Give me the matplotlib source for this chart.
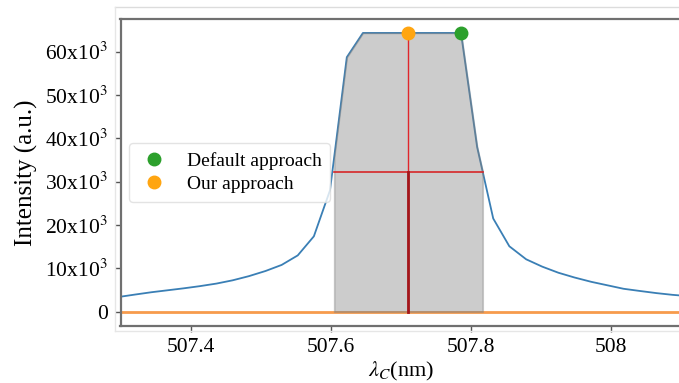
import numpy as np
import matplotlib
matplotlib.use("Agg")
import matplotlib.pyplot as plt
from matplotlib.ticker import FuncFormatter
from matplotlib.lines import Line2D

plt.rcParams['font.family'] = ['Liberation Serif', 'DejaVu Serif']
plt.rcParams['mathtext.fontset'] = 'stix'

# Measured spectrum (wavelength in nm, intensity in a.u.)
wavelength = [507.297, 507.320, 507.344, 507.367, 507.390, 507.413, 507.437,
              507.460, 507.483, 507.507, 507.530, 507.553, 507.576, 507.599,
              507.623, 507.646, 507.669, 507.693, 507.716, 507.739, 507.762,
              507.786, 507.809, 507.832, 507.855, 507.879, 507.902, 507.925,
              507.948, 507.972, 507.995, 508.018, 508.041, 508.065, 508.088,
              508.111]
intensity = [3400, 3950, 4500, 4950, 5400, 5900, 6500,
             7250, 8200, 9400, 10800, 13000, 17400, 28000,
             58700, 64300, 64300, 64300, 64300, 64300, 64300,
             64300, 38000, 21500, 15100, 12100, 10400, 9000,
             7900, 6900, 6100, 5300, 4800, 4300, 3900,
             3600]

# Peak estimates
default_peak = (507.786, 64300)   # position of the maximum sample
our_peak = (507.711, 64300)       # centre of the FWHM interval
fwhm_left, fwhm_right = 507.605, 507.817
half_max = 32200

y_ticks = [0, 10000, 20000, 30000, 40000, 50000, 60000]
x_ticks = [507.4, 507.6, 507.8, 508.0]
x_tick_labels = ['507.4', '507.6', '507.8', '508']

W, H = 679, 383
fig = plt.figure(figsize=(W / 100, H / 100), dpi=100)
ax = fig.add_axes([120.5 / W, 1 - 325.7 / H, 560.5 / W, 306.7 / H])

wl = np.asarray(wavelength)
it = np.asarray(intensity, dtype=float)

ax.plot(wl, it, color='#3a7fb5', lw=1.3, zorder=2)
ax.plot(wl, np.zeros_like(wl), color='#f79b4c', lw=2, zorder=2)

# area under the curve inside the FWHM interval
inside = (wl > fwhm_left) & (wl < fwhm_right)
fx = np.concatenate([[fwhm_left], wl[inside], [fwhm_right]])
fy = np.interp(fx, wl, it)
ax.fill_between(fx, 0, fy, facecolor='grey', edgecolor='grey', alpha=0.4,
                lw=1.2, zorder=3)

# FWHM construction
ax.plot([fwhm_left, fwhm_right], [half_max, half_max], color='#d62728',
        lw=1.2, zorder=4)
ax.plot([our_peak[0], our_peak[0]], [0, our_peak[1]], color='#e0262b',
        lw=1.0, zorder=4)
ax.plot([our_peak[0], our_peak[0]], [0, half_max], color='#a3161b',
        lw=2.0, zorder=4)

ax.plot(*default_peak, 'o', color='#2ca02c', ms=9, zorder=5,
        label='Default approach', clip_on=False)
ax.plot(*our_peak, 'o', color='#ffa510', ms=9, zorder=5,
        label='Our approach', clip_on=False)

ax.set_xlim(507.3, 508.1)
ax.set_ylim(-3215, 67515)
ax.set_xticks(x_ticks)
ax.set_xticklabels(x_tick_labels)
ax.set_yticks(y_ticks)
ax.yaxis.set_major_formatter(FuncFormatter(
    lambda v, p: '0' if v == 0 else f'{int(round(v / 1000))}x10$^3$'))

ax.tick_params(labelsize=15.5, colors='#555555', labelcolor='black',
               length=4, width=1, pad=5)
for s in ax.spines.values():
    s.set_color('#707070')
    s.set_linewidth(1.6)

ax.set_ylabel('Intensity (a.u.)', fontsize=18, labelpad=5)
ax.set_xlabel(r'$\lambda_C$(nm)', fontsize=16, labelpad=2)

leg = ax.legend(loc='center left', bbox_to_anchor=(0.0157, 0.5),
                borderaxespad=0, fontsize=14, frameon=True,
                handletextpad=0.9, borderpad=0.45, labelspacing=0.3,
                handlelength=1.6)
leg.get_frame().set_edgecolor('#dddddd')

# light page frame around the figure
fig.add_artist(Line2D([115 / W, 1], [1 - 7 / H, 1 - 7 / H],
                      color='#dcdcdc', lw=1))
fig.add_artist(Line2D([115 / W, 115 / W], [1 - 7 / H, 1 - 331 / H],
                      color='#e6e6e6', lw=1))
fig.add_artist(Line2D([115 / W, 1], [1 - 331 / H, 1 - 331 / H],
                      color='#e6e6e6', lw=1))

fig.savefig('out.png', dpi=100)
